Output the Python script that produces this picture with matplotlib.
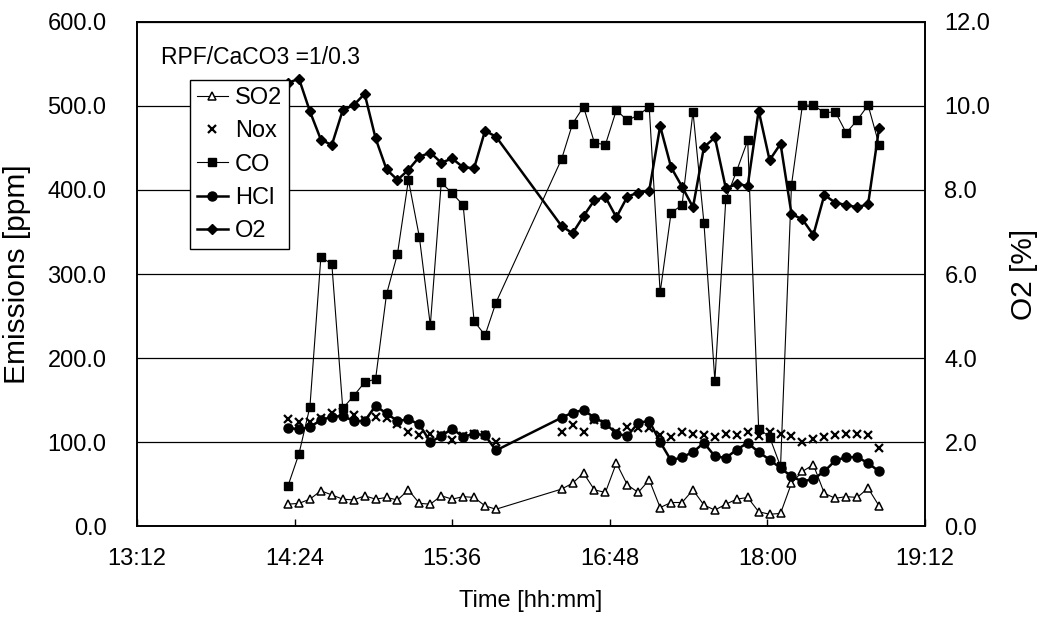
import matplotlib
matplotlib.use("Agg")
import matplotlib.pyplot as plt
import pandas as pd

# Messzeitpunkte (hh:mm)
times = ["14:21", "14:26", "14:31", "14:36", "14:41", "14:46", "14:51", "14:56", "15:01", "15:06",
         "15:11", "15:16", "15:21", "15:26", "15:31", "15:36", "15:41", "15:46", "15:51", "15:56",
         "16:26", "16:31", "16:36", "16:41", "16:46", "16:51", "16:56", "17:01", "17:06", "17:11",
         "17:16", "17:21", "17:26", "17:31", "17:36", "17:41", "17:46", "17:51", "17:56", "18:01",
         "18:06", "18:11", "18:16", "18:21", "18:26", "18:31", "18:36", "18:41", "18:46", "18:51"]

so2 = [26, 27, 32, 42, 37, 32, 31, 36, 32, 34, 31, 43, 27, 26, 36, 32, 35, 34, 24, 20,
       44, 51, 63, 43, 40, 75, 49, 40, 55, 22, 28, 28, 43, 25, 19, 26, 32, 34, 17, 14,
       15, 51, 65, 73, 39, 33, 35, 34, 45, 24]
nox = [127, 124, 124, 128, 135, 136, 132, 126, 130, 128, 122, 112, 108, 110, 108, 102, 107, 109, 108, 100,
       112, 120, 112, 126, 121, 112, 118, 117, 117, 108, 106, 112, 110, 108, 106, 110, 108, 112, 107, 112,
       110, 107, 100, 103, 106, 108, 110, 110, 108, 93]
co = [48, 86, 142, 320, 312, 140, 155, 171, 175, 276, 324, 412, 344, 239, 409, 396, 382, 244, 227, 266,
      437, 479, 499, 456, 454, 495, 483, 489, 499, 278, 373, 382, 493, 361, 173, 389, 423, 459, 116, 106,
      71, 406, 501, 501, 492, 493, 468, 483, 501, 454]
hcl = [117, 115, 118, 126, 130, 131, 125, 125, 143, 134, 125, 127, 121, 100, 107, 116, 106, 110, 108, 90,
       129, 135, 138, 129, 122, 110, 107, 123, 125, 100, 78, 82, 88, 99, 83, 81, 91, 99, 88, 79,
       69, 59, 53, 56, 65, 78, 82, 82, 75, 65]
o2 = [10.55, 10.65, 9.87, 9.2, 9.07, 9.9, 10.02, 10.29, 9.23, 8.49, 8.24, 8.48, 8.79, 8.89, 8.65, 8.75, 8.54, 8.52, 9.41, 9.27,
      7.14, 6.97, 7.38, 7.76, 7.83, 7.35, 7.84, 7.94, 7.98, 9.52, 8.54, 8.08, 7.59, 9.02, 9.25, 8.04, 8.14, 8.1, 9.89, 8.71,
      9.1, 7.43, 7.3, 6.93, 7.88, 7.7, 7.64, 7.59, 7.66, 9.47]

xtick_labels = ["13:12", "14:24", "15:36", "16:48", "18:00", "19:12"]

plt.rcParams['font.family'] = ['Liberation Sans', 'DejaVu Sans']

day = "2000-01-01 "
t = pd.to_datetime([day + s for s in times])
xt = pd.to_datetime([day + s for s in xtick_labels])

fig = plt.figure(figsize=(10.49, 6.19), dpi=100)
ax = fig.add_axes([0.1306, 0.1502, 0.7512, 0.8143])
ax2 = ax.twinx()

l1, = ax.plot(t, so2, color='black', lw=0.8, marker='^', ms=6, mfc='white', mec='black', mew=1.1, label='SO2')
l2, = ax.plot(t, nox, color='black', lw=0, marker='x', ms=6, mew=1.6, label='Nox')
l3, = ax.plot(t, co, color='black', lw=0.8, marker='s', ms=5.5, label='CO')
l4, = ax.plot(t, hcl, color='black', lw=1.8, marker='o', ms=6.5, label='HCl')
l5, = ax2.plot(t, o2, color='black', lw=1.8, marker='D', ms=5.5, label='O2')

ax.set_xlim(xt[0], xt[-1])
ax.set_xticks(xt)
ax.set_xticklabels(xtick_labels)
ax.set_ylim(0, 600)
ax.set_yticks(range(0, 601, 100))
ax.set_yticklabels([f"{v:.1f}" for v in range(0, 601, 100)])
ax2.set_ylim(0, 12)
ax2.set_yticks(range(0, 13, 2))
ax2.set_yticklabels([f"{v:.1f}" for v in range(0, 13, 2)])

ax.yaxis.grid(True, color='black', lw=0.9)
ax.set_axisbelow(True)
for a in (ax, ax2):
    for s in a.spines.values():
        s.set_color('black')
        s.set_linewidth(1.2)

ax.tick_params(axis='x', direction='in', length=5, width=1, labelsize=17, pad=16)
ax.tick_params(axis='y', length=0, labelsize=17, pad=22)
ax2.tick_params(axis='y', length=0, labelsize=17, pad=14)

ax.set_xlabel("Time [hh:mm]", fontsize=17, labelpad=14)
ax.set_ylabel("Emissions [ppm]", fontsize=21.5, labelpad=12)
ax2.set_ylabel("O2 [%]", fontsize=21.5, labelpad=14)

ax.text(0.03, 0.93, "RPF/CaCO3 =1/0.3", transform=ax.transAxes, fontsize=16.5, va='center', ha='left')

leg = ax2.legend(handles=[l1, l2, l3, l4, l5], loc='upper left', bbox_to_anchor=(0.067, 0.885),
                 fontsize=17, frameon=True, fancybox=False, framealpha=1, edgecolor='black',
                 handlelength=1.3, handletextpad=0.3, labelspacing=0.48, borderpad=0.3, borderaxespad=0)
leg.get_frame().set_linewidth(1.0)

fig.savefig("out.png", dpi=100)
